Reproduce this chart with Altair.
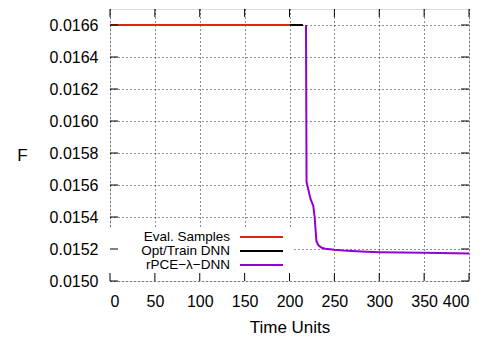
import altair as alt
import pandas as pd

FONT = "Liberation Sans"

series_names = ["Eval. Samples", "Opt/Train DNN", "rPCE−λ−DNN"]
series_colors = ["#e8201a", "#000000", "#9400d3"]

eval_x = [0, 200]
eval_y = [0.0166, 0.0166]
opt_x = [200, 215]
opt_y = [0.0166, 0.0166]
rpce_x = [218.4, 219.0, 221.0, 223.6, 226.5, 228.0, 230.0, 232.0, 235.9, 240, 250, 260, 280, 300, 350, 400]
rpce_y = [0.01660, 0.01562, 0.01557, 0.01551, 0.01547, 0.01540, 0.01525, 0.015225, 0.015208,
          0.015202, 0.015195, 0.015190, 0.015184, 0.015180, 0.015176, 0.015172]

x_ticks = [0, 50, 100, 150, 200, 250, 300, 350, 400]
y_ticks = [0.0150, 0.0152, 0.0154, 0.0156, 0.0158, 0.0160, 0.0162, 0.0164, 0.0166]

W, H = 359, 272

rows = []
for name, xs, ys in zip(series_names, [eval_x, opt_x, rpce_x], [eval_y, opt_y, rpce_y]):
    for i, (a, b) in enumerate(zip(xs, ys)):
        rows.append({"x": a, "y": b, "series": name, "i": i})
df = pd.DataFrame(rows)

xscale = alt.Scale(domain=[0, 400], nice=False)
yscale = alt.Scale(domain=[0.0150, 0.0167], nice=False, zero=False)

xaxis = alt.Axis(values=x_ticks, title="Time Units", labelFontSize=16, titleFontSize=17,
                 labelFont=FONT, titleFont=FONT, labelColor="black", titleColor="black",
                 ticks=False, domain=False, grid=True, gridColor="black", gridDash=[1, 3],
                 gridOpacity=0.9, labelPadding=12, titlePadding=10, titleFontWeight="normal")
yaxis = alt.Axis(values=y_ticks, format=".4f", title="F", labelFontSize=16, titleFontSize=17,
                 labelFont=FONT, titleFont=FONT, labelColor="black", titleColor="black",
                 ticks=False, domain=False, grid=True, gridColor="black", gridDash=[1, 3],
                 gridOpacity=0.9, labelPadding=12, titleAngle=0, titleX=-88, titleY=146,
                 titleAlign="center", titleBaseline="middle", titleFontWeight="normal")

X = alt.X("x:Q", scale=xscale, axis=xaxis)
Y = alt.Y("y:Q", scale=yscale, axis=yaxis)

lines = alt.Chart(df).mark_line(strokeWidth=2).encode(
    x=X, y=Y,
    color=alt.Color("series:N", scale=alt.Scale(domain=series_names, range=series_colors), legend=None),
    order="i:Q",
)

legend_bg = alt.Chart(pd.DataFrame({"a": [0]})).mark_rect(color="white").encode(
    x=alt.value(0), x2=alt.value(182), y=alt.value(219), y2=alt.value(H)
)

xt = pd.DataFrame({"x": x_ticks})
yt = pd.DataFrame({"y": y_ticks})
tick_layers = [
    alt.Chart(xt).mark_rule(color="black").encode(x=X, y=alt.value(0), y2=alt.value(8)),
    alt.Chart(xt).mark_rule(color="black").encode(x=X, y=alt.value(H - 8), y2=alt.value(H)),
    alt.Chart(yt).mark_rule(color="black").encode(y=Y, x=alt.value(0), x2=alt.value(8)),
    alt.Chart(yt).mark_rule(color="black").encode(y=Y, x=alt.value(W - 8), x2=alt.value(W)),
]

legend_layers = []
for i, (name, col) in enumerate(zip(series_names, series_colors)):
    yy = 228 + 14 * i
    ld = pd.DataFrame({"name": [name]})
    legend_layers.append(
        alt.Chart(ld).mark_text(align="right", baseline="middle", fontSize=13.5, font=FONT,
                                color="black").encode(x=alt.value(120), y=alt.value(yy), text="name:N")
    )
    legend_layers.append(
        alt.Chart(ld).mark_rule(color=col, strokeWidth=2).encode(
            x=alt.value(130), x2=alt.value(173), y=alt.value(yy))
    )

chart = alt.layer(legend_bg, lines, *legend_layers, *tick_layers).properties(
    width=W, height=H,
    autosize=alt.AutoSizeParams(type="none"),
    padding={"left": 102, "top": 1, "right": 10, "bottom": 62},
).configure_view(stroke="black", strokeWidth=1.2).configure(background="white")

chart.save("out.html", embed_options={"renderer": "svg", "actions": False})
